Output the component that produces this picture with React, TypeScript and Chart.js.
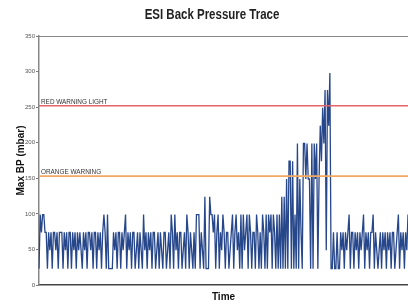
import { useEffect, useRef } from "react";
import { Chart, registerables } from "chart.js";

Chart.register(...registerables);

const chartTitle = "ESI Back Pressure Trace";
const yAxisTitle = "Max BP (mbar)";
const xAxisTitle = "Time";
const yMin = 0;
const yMax = 350;
const yStep = 50;
const redLevel = 252;
const orangeLevel = 153;
const redLabel = "RED WARNING LIGHT";
const orangeLabel = "ORANGE WARNING";

const seg1 = [23, 99, 74, 99, 99, 74, 74, 23, 74, 49, 74, 23, 74, 74, 49, 74, 23, 74, 74, 74, 23, 74, 49, 74, 23, 74, 74, 23, 74, 49, 74, 23, 74, 49, 74, 49, 23, 74, 49, 74, 23, 74, 74, 49, 74, 23, 74, 74, 23, 74, 49, 74, 23, 74, 99];
const seg2 = [74, 23, 99, 23, 23, 23, 23, 74, 49, 74, 23, 74, 74, 23, 74, 49, 74, 99, 23, 74, 49, 74, 23, 74, 74, 23, 49, 74, 23, 74, 49, 23, 99, 49, 74, 23, 74, 49, 74, 23, 74, 74, 23, 49, 74, 23, 74, 49, 23, 74, 74, 23, 49, 74, 23, 99];
const seg3 = [74, 23, 99, 49, 74, 23, 74, 74, 23, 49, 74, 23, 99, 74, 23, 74, 49, 23, 74, 23, 99, 99, 99, 23, 74, 49, 23, 124, 23, 23, 23, 124, 99, 99, 74, 99, 23, 74, 99, 23, 74, 49, 99, 74, 23, 74, 74, 23, 49, 74, 99, 23, 74, 99, 49, 74, 23];
const seg4 = [99, 23, 99, 49, 74, 99, 23, 99, 74, 23, 74, 74, 23, 99, 74, 23, 74, 23, 99, 74, 23, 99, 23, 99, 74];
const seg5 = [99, 23, 99, 74, 23, 99, 23, 99, 23, 124, 23, 124, 23, 149, 23, 174, 174, 23, 174, 23, 99, 23, 199, 23, 149, 74, 23, 199, 199, 149, 199, 149, 149, 23, 199, 23, 199, 149, 199, 23, 149, 224, 174, 249, 199, 274, 49, 274, 224, 298];
const seg6 = [23, 23, 74, 23, 23, 74, 23, 23, 74, 49, 74, 23, 74, 49, 74, 99, 23, 74, 74, 23, 74, 49, 74, 23, 74, 49, 74, 99, 23, 74, 49, 74, 23, 74, 74, 99, 23, 74, 49, 23, 49, 74, 23, 74, 49, 74, 23, 74, 49, 74, 23, 74, 74, 23, 49, 74, 99, 23, 74, 49, 74, 23, 74, 49, 99];

const backPressure = [...seg1, ...seg2, ...seg3, ...seg4, ...seg5, ...seg6];
const timeLabels = backPressure.map((_, i) => String(i + 1));

const FONT = "'Liberation Sans', Arial, sans-serif";

const overlayPlugin = {
  id: "overlay",
  afterDatasetsDraw(chart: any) {
    const { ctx, chartArea, scales } = chart;
    const y = scales.y;
    const lines = [
      { v: redLevel, color: "#e4646a", label: redLabel },
      { v: orangeLevel, color: "#f4a760", label: orangeLabel },
    ];
    ctx.save();
    for (const l of lines) {
      const py = y.getPixelForValue(l.v);
      ctx.strokeStyle = l.color;
      ctx.lineWidth = 1.6;
      ctx.beginPath();
      ctx.moveTo(chartArea.left, py);
      ctx.lineTo(chartArea.right, py);
      ctx.stroke();
      ctx.fillStyle = "#333";
      ctx.font = `6.4px ${FONT}`;
      ctx.textAlign = "left";
      ctx.textBaseline = "alphabetic";
      ctx.fillText(l.label, chartArea.left + 2, py - 2);
    }
    ctx.restore();
  },
  afterDraw(chart: any) {
    const { ctx } = chart;
    ctx.save();
    ctx.fillStyle = "#222";
    ctx.font = `bold 14px ${FONT}`;
    ctx.textAlign = "center";
    ctx.textBaseline = "middle";
    ctx.translate(212, 15);
    ctx.scale(0.82, 1);
    ctx.fillText(chartTitle, 0, 0);
    ctx.restore();
  },
};

export default function App() {
  const ref = useRef<HTMLCanvasElement | null>(null);
  useEffect(() => {
    if (!ref.current) return;
    const chart = new Chart(ref.current, {
      type: "line",
      data: {
        labels: timeLabels,
        datasets: [
          {
            data: backPressure,
            borderColor: "#27478b",
            borderWidth: 1.3,
            pointRadius: 0,
            tension: 0,
            fill: false,
          },
        ],
      },
      options: {
        animation: false,
        responsive: false,
        maintainAspectRatio: false,
        layout: { padding: { top: 36, left: 0, right: 0, bottom: 0 } },
        plugins: {
          legend: { display: false },
          title: { display: false },
          tooltip: { enabled: false },
        },
        scales: {
          x: {
            type: "category",
            position: "bottom",
            grid: { display: false },
            border: { display: true, color: "#444", width: 1.5 },
            ticks: { display: false },
            title: {
              display: true,
              text: xAxisTitle,
              color: "#111",
              font: { family: FONT, size: 10, weight: "bold" },
              padding: { top: 0, bottom: 2 },
            },
            afterFit: (s: any) => {
              s.height = 20;
            },
          },
          xTop: {
            type: "category",
            position: "top",
            grid: { display: false },
            border: { display: true, color: "#888", width: 1 },
            ticks: { display: false },
            afterFit: (s: any) => {
              s.height = 0;
            },
          },
          y: {
            min: yMin,
            max: yMax,
            ticks: {
              stepSize: yStep,
              color: "#555",
              font: { family: FONT, size: 6 },
              padding: 1,
            },
            grid: { drawOnChartArea: false, drawTicks: true, tickLength: 3, color: "#777" },
            border: { display: true, color: "#888", width: 1.5 },
            title: {
              display: true,
              text: yAxisTitle,
              color: "#111",
              font: { family: FONT, size: 10, weight: "bold" },
              padding: { top: 15, bottom: 0 },
            },
            afterFit: (s: any) => {
              s.width = 39;
            },
          },
        },
      } as any,
      plugins: [overlayPlugin],
    });
    return () => chart.destroy();
  }, []);
  return (
    <div style={{ position: "fixed", left: 0, top: 0, width: 408, height: 305, background: "#fff" }}>
      <canvas ref={ref} width={408} height={305} />
    </div>
  );
}
